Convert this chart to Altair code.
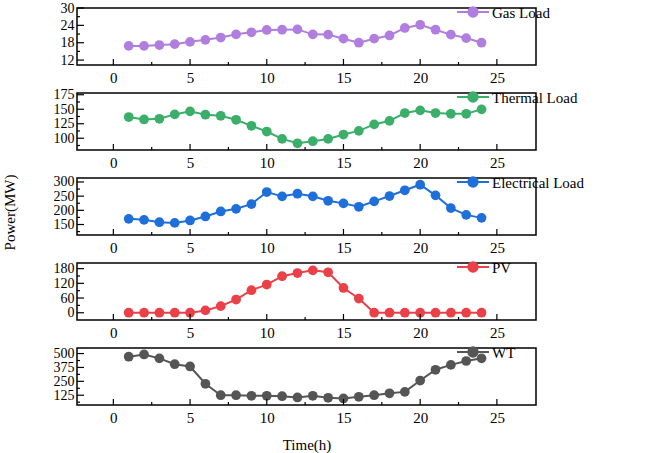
import altair as alt
import pandas as pd

hours = list(range(1, 25))

gas = [16.9, 16.9, 17.2, 17.5, 18.3, 19.0, 19.8, 20.9, 21.6, 22.4, 22.5, 22.6,
       20.9, 20.8, 19.4, 18.0, 19.4, 20.5, 23.1, 24.2, 22.5, 20.8, 19.6, 18.0]
thermal = [136.5, 132.4, 133.5, 141.1, 146.3, 140.5, 138.7, 131.8, 121.4, 111.6, 98.8, 91.3,
           94.8, 98.8, 106.4, 112.7, 123.8, 130.0, 143.4, 148.1, 143.4, 142.2, 142.2, 149.8]
electrical = [169.9, 166.4, 158.2, 155.7, 164.2, 178.4, 196.0, 205.3, 222.0, 264.5, 249.3, 258.5,
              249.3, 233.7, 224.5, 212.4, 231.6, 250.4, 270.6, 290.4, 252.8, 207.8, 184.0, 173.4]
pv = [0, 0, 0, 0, 0, 9.5, 27, 54, 92, 115, 149, 162,
      173, 165, 101, 58, 0, 0, 0, 0, 0, 0, 0, 0]
wt = [471.7, 492.0, 456.8, 404.0, 383.7, 228.0, 125.0, 125.0, 119.7, 120.0, 116.0, 105.0,
      120.0, 102.0, 96.0, 111.0, 125.0, 142.6, 155.0, 257.0, 354.0, 398.0, 433.0, 457.0]

series_names = ["Gas Load", "Thermal Load", "Electrical Load", "PV", "WT"]
series_values = [gas, thermal, electrical, pv, wt]
colors = ["#B07EDE", "#3BAE6A", "#1F6FDA", "#EA4148", "#555555"]
y_domains = [[10.3, 30], [79.7, 178], [113, 314], [-29.6, 203], [37, 550]]
y_major = [[12, 18, 24, 30], [100, 125, 150, 175], [150, 200, 250, 300], [0, 60, 120, 180], [125, 250, 375, 500]]
y_minor = [[15, 21, 27], [87.5, 112.5, 137.5, 162.5], [125, 175, 225, 275], [-30, 30, 90, 150], [62.5, 187.5, 312.5, 437.5]]
x_major = [0, 5, 10, 15, 20, 25]
x_minor = [2.5, 7.5, 12.5, 17.5, 22.5]
x_domain = [-2.37, 27.55]

W, H = 459, 57
FONT = "Liberation Serif"
FS = 14


def panel(i):
    name = series_names[i]
    color = colors[i]
    df = pd.DataFrame({"Hour": hours, "val": series_values[i]})
    xscale = alt.Scale(domain=x_domain, nice=False, zero=False)
    yscale = alt.Scale(domain=y_domains[i], nice=False, zero=False)
    is_last = i == 4
    xaxis = alt.Axis(values=x_major, ticks=False, domain=False, grid=False,
                     labelFont=FONT, labelFontSize=FS + 1, labelColor="black", labelPadding=5,
                     labelOverlap=False,
                     title="Time(h)" if is_last else None,
                     titleFont=FONT, titleFontSize=FS + 1, titleFontWeight="normal",
                     titleColor="black", titlePadding=12)
    yaxis_kwargs = dict(values=y_major[i], ticks=False, domain=False, grid=False,
                        labelFont=FONT, labelFontSize=FS, labelColor="black", labelPadding=3,
                        labelOverlap=False, labelFlush=False)
    if i == 2:
        yaxis = alt.Axis(title="Power(MW)", titleFont=FONT, titleFontSize=FS + 1,
                         titleFontWeight="normal", titleColor="black",
                         titleX=-68, titleY=34, titleBaseline="middle", titleAlign="center",
                         titleAngle=270, **yaxis_kwargs)
    else:
        yaxis = alt.Axis(title=None, **yaxis_kwargs)

    X = lambda f: alt.X(f, scale=xscale, axis=xaxis)
    Y = lambda f: alt.Y(f, scale=yscale, axis=yaxis)

    base = alt.Chart(df).encode(x=X("Hour:Q"), y=Y("val:Q"))
    line = base.mark_line(color=color, strokeWidth=2)
    pts = base.mark_circle(color=color, size=95, opacity=1)

    # inward ticks
    xt_major = alt.Chart(pd.DataFrame({"Hour": x_major})).mark_rule(color="black", strokeWidth=1.2).encode(
        x=X("Hour:Q"), y=alt.value(H), y2=alt.value(H - 6))
    xt_minor = alt.Chart(pd.DataFrame({"Hour": x_minor})).mark_rule(color="black", strokeWidth=1.2).encode(
        x=X("Hour:Q"), y=alt.value(H), y2=alt.value(H - 3))
    yt_major = alt.Chart(pd.DataFrame({"val": y_major[i]})).mark_rule(color="black", strokeWidth=1.2).encode(
        y=Y("val:Q"), x=alt.value(0), x2=alt.value(7))
    ym = [v for v in y_minor[i] if y_domains[i][0] < v < y_domains[i][1]]
    yt_minor = alt.Chart(pd.DataFrame({"val": ym})).mark_rule(color="black", strokeWidth=1.2).encode(
        y=Y("val:Q"), x=alt.value(0), x2=alt.value(3))

    # legend entry
    ldf = pd.DataFrame({"label": [name]})
    leg_line = alt.Chart(ldf).mark_rule(color=color, strokeWidth=2).encode(
        x=alt.value(380), x2=alt.value(412), y=alt.value(4))
    leg_pt = alt.Chart(ldf).mark_circle(color=color, size=130, opacity=1).encode(
        x=alt.value(396), y=alt.value(4))
    leg_txt = alt.Chart(ldf).mark_text(align="left", baseline="middle", font=FONT,
                                       fontSize=FS + 1, color="black").encode(
        x=alt.value(415), y=alt.value(5), text="label:N")

    return alt.layer(line, pts, xt_major, xt_minor, yt_major, yt_minor,
                     leg_line, leg_pt, leg_txt).properties(width=W, height=H)


chart = alt.vconcat(*[panel(i) for i in range(5)], spacing=28, bounds="flush").properties(
    padding={"left": 1, "top": 0, "right": 5, "bottom": 5},
    background="white"
).configure_view(stroke="black", strokeWidth=1.5)

chart.save("out.html", embed_options={"renderer": "svg", "actions": False})
